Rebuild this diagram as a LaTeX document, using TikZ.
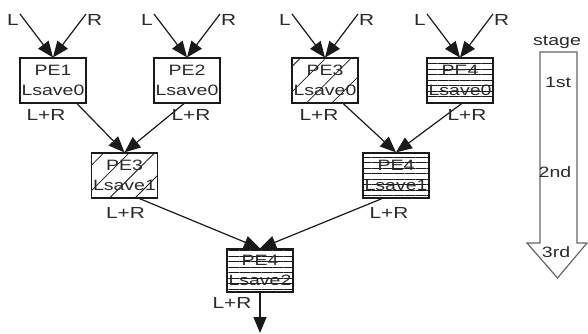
\documentclass[tikz,border=0pt]{standalone}
\usepackage{fontspec}
\newfontfamily\dfont{Liberation Sans}[FakeStretch=1.3]
\usetikzlibrary{arrows.meta,patterns.meta,calc}
\definecolor{txt}{HTML}{2A2A2A}
\definecolor{ln}{HTML}{1A1A1A}
\tikzset{
  pebox/.style={draw=ln,line width=1.2pt,minimum width=66pt,minimum height=45pt,inner sep=0pt,
    align=center,font=\dfont\fontsize{15}{20}\selectfont,text=txt},
  diag/.style={pattern={Lines[angle=45,distance=18pt,line width=0.8pt]},pattern color=ln},
  horiz/.style={pattern={Lines[angle=0,distance=5.5pt,line width=0.7pt]},pattern color=ln},
  lbl/.style={font=\dfont\fontsize{16}{18}\selectfont,text=txt,inner sep=0pt},
  conn/.style={draw=ln,line width=1.2pt,-{Triangle[length=16pt,width=13pt]}},
}
\begin{document}
\begin{tikzpicture}[x=1pt,y=-1pt]
\useasboundingbox (0,0) rectangle (588,333);
% top row boxes
\node[pebox] (pe1) at (53,80.5) {PE1\\Lsave0};
\node[pebox] (pe2) at (187,80.5) {PE2\\Lsave0};
\node[pebox,diag] (pe3) at (325,80.5) {PE3\\Lsave0};
\node[pebox,horiz] (pe4) at (460,80.5) {PE4\\Lsave0};
% middle row
\node[pebox,diag] (pe3m) at (124.5,175.5) {PE3\\Lsave1};
\node[pebox,horiz] (pe4m) at (396,175.5) {PE4\\Lsave1};
% bottom
\node[pebox,horiz,minimum height=43pt] (pe4b) at (260,270.5) {PE4\\Lsave2};
% input coordinates
\coordinate (l1) at (20,14); \coordinate (r1) at (86,14);
\coordinate (l2) at (154,14); \coordinate (r2) at (220,14);
\coordinate (l3) at (292,14); \coordinate (r3) at (358,14);
\coordinate (l4) at (427,14); \coordinate (r4) at (493,14);
\foreach \i in {1,2,3,4}{
  \node[lbl,anchor=east] (Ll\i) at ($(l\i)+(-1,6)$) {L};
  \node[lbl,anchor=west] (Rl\i) at ($(r\i)+(1,6)$) {R};
  \draw[conn] (l\i) -- (pe\i.north);
  \draw[conn] (r\i) -- (pe\i.north);
}
% top outputs
\draw[conn] ([xshift=24pt]pe1.south) -- (pe3m.north);
\draw[conn] ([xshift=-3pt]pe2.south) -- (pe3m.north);
\draw[conn] ([xshift=18pt]pe3.south) -- (pe4m.north);
\draw[conn] ([xshift=2pt]pe4.south) -- (pe4m.north);
% mid outputs
\draw[conn] ([xshift=15pt]pe3m.south) -- (pe4b.north);
\draw[conn] ([xshift=-14pt]pe4m.south) -- (pe4b.north);
% final output
\coordinate (out) at (260,333);
\draw[conn] (pe4b.south) -- (out);
% L+R labels
\node[lbl] (s1) at (46,115) {L+R};
\node[lbl] (s2) at (191,115) {L+R};
\node[lbl] (s3) at (319,115) {L+R};
\node[lbl] (s4) at (467,115) {L+R};
\node[lbl] (s5) at (125.5,213) {L+R};
\node[lbl] (s6) at (389,213) {L+R};
\node[lbl] (s7) at (232,303) {L+R};
% stage arrow
\draw[draw=gray!80!black,line width=1.2pt,line join=miter]
  (540,52) -- (577,52) -- (577,243) -- (587,243) -- (557.5,278) -- (527,243) -- (540,243) -- cycle;
\node[lbl,font=\dfont\fontsize{15}{18}\selectfont] (stage) at (557,42) {stage};
\node[lbl,font=\dfont\fontsize{15}{18}\selectfont] (st1) at (558,82) {1st};
\node[lbl,font=\dfont\fontsize{15}{18}\selectfont] (st2) at (555,172) {2nd};
\node[lbl,font=\dfont\fontsize{15}{18}\selectfont] (st3) at (556,252) {3rd};
\end{tikzpicture}
\end{document}
